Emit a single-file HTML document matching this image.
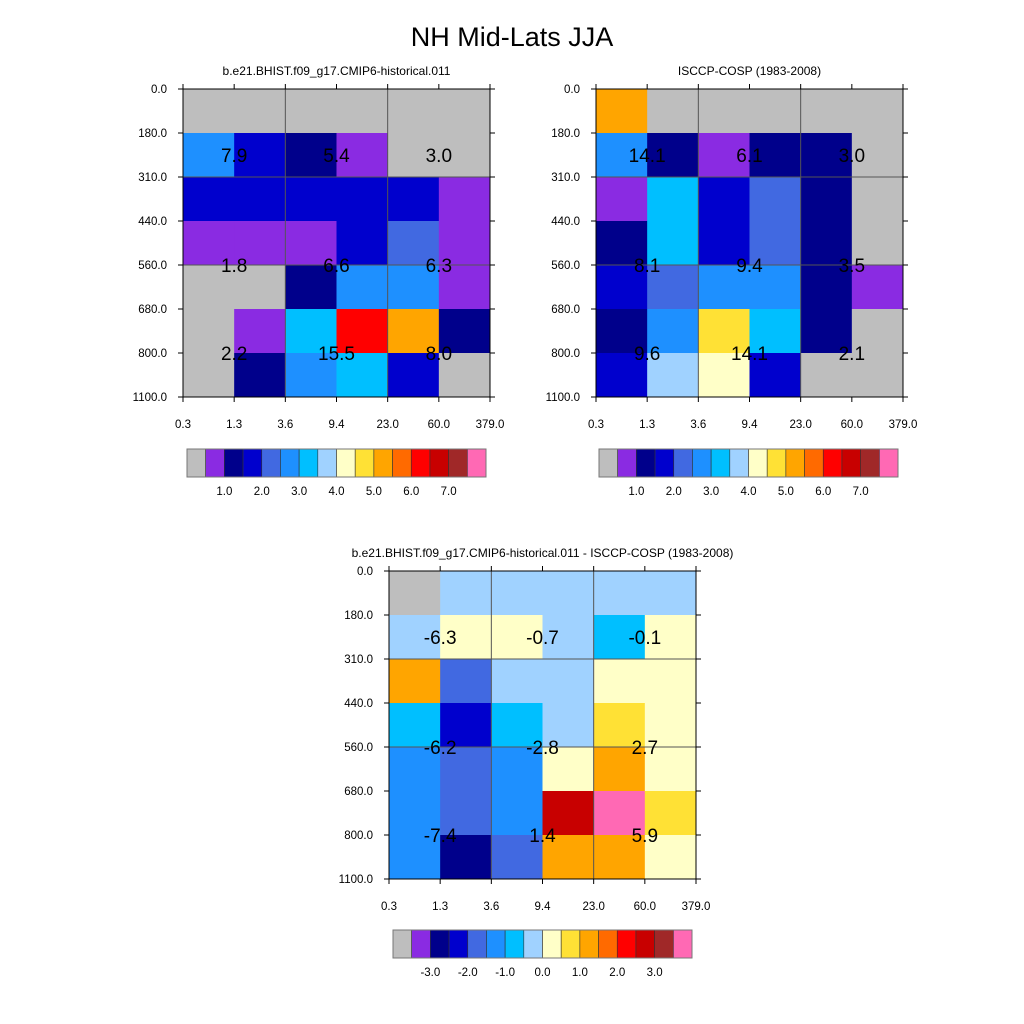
<!DOCTYPE html>
<html><head><meta charset="utf-8"><style>
body{margin:0;background:#fff;}
svg{display:block;font-family:"Liberation Sans",sans-serif;}
</style></head><body>
<svg id="c" width="1024" height="1024" viewBox="0 0 1024 1024">
<text x="512" y="46" font-size="27" text-anchor="middle">NH Mid-Lats JJA</text>
</svg>
<script>
const yTicks=["0.0","180.0","310.0","440.0","560.0","680.0","800.0","1100.0"];
const xTicks=["0.3","1.3","3.6","9.4","23.0","60.0","379.0"];
const palette=["#BEBEBE","#8A2BE2","#00008B","#0000CD","#4169E1","#1E90FF","#00BFFF","#A0D2FF","#FFFFC8","#FFE135","#FFA500","#FF6A00","#FF0000","#C80000","#A02828","#FF69B4"];
const modelVals=[
[0.2,0.2,0.2,0.2,0.2,0.2],
[2.7,1.7,1.2,0.7,0.2,0.2],
[1.7,1.7,1.7,1.7,1.7,0.7],
[0.7,0.7,0.7,1.7,2.2,0.7],
[0.2,0.2,1.2,2.7,2.7,0.7],
[0.2,0.7,3.2,6.2,5.2,1.2],
[0.2,1.2,2.7,3.2,1.7,0.2]];
const obsVals=[
[5.2,0.2,0.2,0.2,0.2,0.2],
[2.7,1.2,0.7,1.2,1.2,0.2],
[0.7,3.2,1.7,2.2,1.2,0.2],
[1.2,3.2,1.7,2.2,1.2,0.2],
[1.7,2.2,2.7,2.7,1.2,0.7],
[1.2,2.7,4.7,3.2,1.2,0.2],
[1.7,3.7,4.2,1.7,0.2,0.2]];
const diffVals=[
[-3.75,-0.25,-0.25,-0.25,-0.25,-0.25],
[-0.25,0.25,0.25,-0.25,-0.75,0.25],
[1.25,-1.75,-0.25,-0.25,0.25,0.25],
[-0.75,-2.25,-0.75,-0.25,0.75,0.25],
[-1.25,-1.75,-1.25,0.25,1.25,0.25],
[-1.25,-1.75,-1.25,2.75,3.75,0.75],
[-1.25,-2.75,-1.75,1.25,1.25,0.25]];
const modelLabels=["7.9","5.4","3.0","1.8","6.6","6.3","2.2","15.5","8.0"];
const obsLabels=["14.1","6.1","3.0","8.1","9.4","3.5","9.6","14.1","2.1"];
const diffLabels=["-6.3","-0.7","-0.1","-6.2","-2.8","2.7","-7.4","1.4","5.9"];
const absCbLabels=["1.0","2.0","3.0","4.0","5.0","6.0","7.0"];
const diffCbLabels=["-3.0","-2.0","-1.0","0.0","1.0","2.0","3.0"];
const absLevelStart=0, diffLevelStart=-4, levelStep=0.5;

const svg=document.getElementById('c');
const NS="http://www.w3.org/2000/svg";
function mk(tag,attrs,parent){const e=document.createElementNS(NS,tag);for(const k in attrs)e.setAttribute(k,attrs[k]);(parent||svg).appendChild(e);return e;}
function colorIndex(v,start){let i=Math.floor((v-start)/levelStep);return Math.max(0,Math.min(15,i));}

function panel(x0,y0,vals,labels,start,title,cbLabels,cbx,cby,prefix){
  const W=307,H=308,cw=W/6,rh=H/7;
  const g=mk('g',{});
  
  
  const t=mk('text',{x:x0+W/2,y:y0-14,'font-size':12,'text-anchor':'middle'},g);t.textContent=title;
  
  
  vals.forEach((row,r)=>row.forEach((v,c)=>{
    const rc=mk('rect',{x:x0+c*cw,y:y0+r*rh,width:cw+0.5,height:rh+0.5,fill:palette[colorIndex(v,start)]},g);
    
    
  }));
  [2,4].forEach(c=>mk('line',{x1:x0+c*cw,x2:x0+c*cw,y1:y0,y2:y0+H,stroke:'#555','stroke-width':1},g));
  [2,4].forEach(r=>mk('line',{x1:x0,x2:x0+W,y1:y0+r*rh,y2:y0+r*rh,stroke:'#555','stroke-width':1},g));
  mk('rect',{x:x0,y:y0,width:W,height:H,fill:'none',stroke:'#000','stroke-width':1},g);
  yTicks.forEach((lab,i)=>{
    const y=y0+i*rh;
    mk('line',{x1:x0-5,x2:x0,y1:y,y2:y,stroke:'#000'},g);
    mk('line',{x1:x0+W,x2:x0+W+5,y1:y,y2:y,stroke:'#000'},g);
    const tt=mk('text',{x:x0-16,y:y+4,'font-size':11.5,'text-anchor':'end'},g);tt.textContent=lab;
    
    
  });
  xTicks.forEach((lab,i)=>{
    const x=x0+i*cw;
    mk('line',{x1:x,x2:x,y1:y0-5,y2:y0,stroke:'#000'},g);
    mk('line',{x1:x,x2:x,y1:y0+H,y2:y0+H+5,stroke:'#000'},g);
    const tt=mk('text',{x:x,y:y0+H+31,'font-size':11.5,'text-anchor':'middle'},g);tt.textContent=lab;
    
    
  });
  const ly=[1.5,4,6];
  labels.forEach((lab,i)=>{
    const r=Math.floor(i/3),c=i%3;
    const tt=mk('text',{x:x0+(2*c+1)*cw,y:y0+ly[r]*rh+7,'font-size':19,'text-anchor':'middle'},g);tt.textContent=lab;
    
    
  });
  const bw=299/16;
  for(let i=0;i<16;i++){
    const b=mk('rect',{x:cbx+i*bw,y:cby,width:bw,height:28,fill:palette[i],stroke:'#333','stroke-width':0.6},g);
    
    
  }
  mk('rect',{x:cbx,y:cby,width:299,height:28,fill:'none',stroke:'#777','stroke-width':1},g);
  cbLabels.forEach((lab,i)=>{
    const tt=mk('text',{x:cbx+(2+2*i)*bw,y:cby+46,'font-size':11.5,'text-anchor':'middle'},g);tt.textContent=lab;
    
    
  });
}
panel(183,89,modelVals,modelLabels,absLevelStart,"b.e21.BHIST.f09_g17.CMIP6-historical.011",absCbLabels,187,449,'model');
panel(596,89,obsVals,obsLabels,absLevelStart,"ISCCP-COSP (1983-2008)",absCbLabels,599,449,'obs');
panel(389,571,diffVals,diffLabels,diffLevelStart,"b.e21.BHIST.f09_g17.CMIP6-historical.011 - ISCCP-COSP (1983-2008)",diffCbLabels,393,930,'diff');
</script>
</body></html>
